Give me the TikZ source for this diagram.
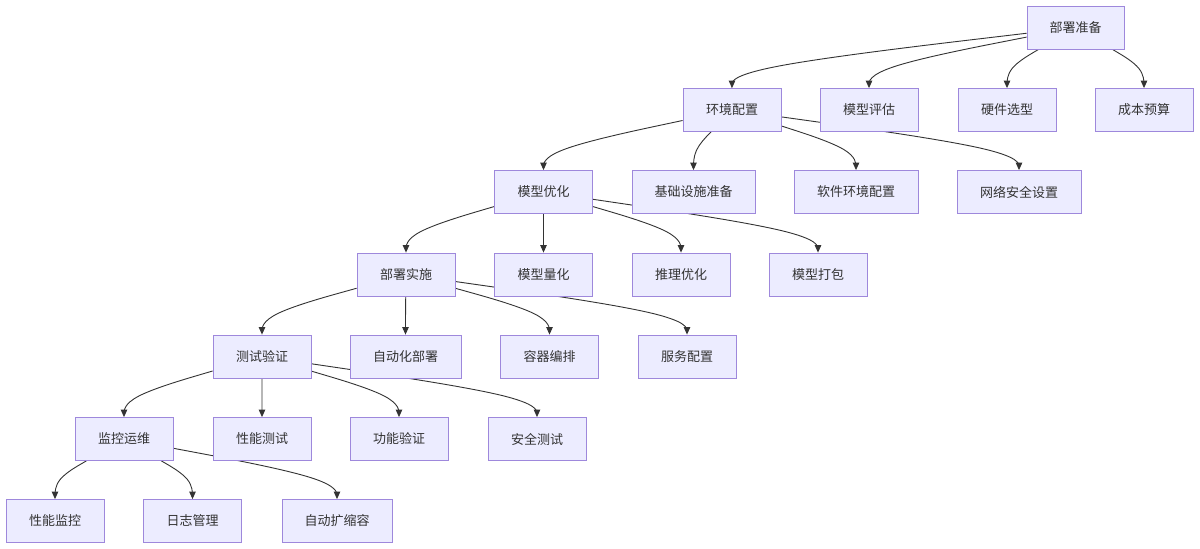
\documentclass[tikz,border=0pt]{standalone}
\usepackage{fontspec}
\setmainfont{Noto Sans CJK SC}
\usetikzlibrary{calc,arrows.meta}
\definecolor{boxfill}{HTML}{ECECFF}
\definecolor{boxline}{HTML}{9E88DC}
\definecolor{edgecol}{HTML}{333333}
\definecolor{txtcol}{HTML}{333333}
\pgfdeclarelayer{edgelayer}
\pgfsetlayers{edgelayer,main}
\newcommand\mmedge[2]{%
  \coordinate (mD) at ($(#2.north)+(0,-20)$);
  \path (#1) -- coordinate[pos=0] (mS) (mD);
  \draw[edgeline] (mS) -- ($0.833333*(mS)+0.166667*(mD)$)
    .. controls ($0.666667*(mS)+0.333333*(mD)$) and ($0.333333*(mS)+0.666667*(mD)$)
    .. ($0.166667*(mS)+0.666667*(mD)+0.166667*(#2.north)$)
    .. controls ($0.666667*(mD)+0.333333*(#2.north)$) and ($0.333333*(mD)+0.666667*(#2.north)$)
    .. ($0.166667*(mD)+0.833333*(#2.north)$) -- (#2.north);
}
\tikzset{
  box/.style={draw=boxline, fill=boxfill, line width=0.8pt, minimum width=98pt,
    minimum height=43pt, inner sep=0pt, font=\fontsize{13}{15}\selectfont, text=txtcol},
  edgeline/.style={draw=edgecol, line width=0.9pt, -{Triangle[length=7.5pt,width=6.5pt]}}
}
\begin{document}
\begin{tikzpicture}[x=1pt,y=-1pt]
\useasboundingbox (0,0) rectangle (1200,549);
% row 1
\node[box, minimum width=97pt] (a) at (1075.5,27.5) {部署准备};
% row 2
\node[box] (b1) at (732,110) {环境配置};
\node[box] (b2) at (869,110) {模型评估};
\node[box] (b3) at (1007,110) {硬件选型};
\node[box] (b4) at (1144,110) {成本预算};
% row 3
\node[box] (c1) at (543.5,192) {模型优化};
\node[box, minimum width=123pt] (c2) at (693.5,192) {基础设施准备};
\node[box, minimum width=124pt] (c3) at (856,192) {软件环境配置};
\node[box, minimum width=124pt] (c4) at (1019,192) {网络安全设置};
% row 4
\node[box] (d1) at (406,274.5) {部署实施};
\node[box] (d2) at (543.5,274.5) {模型量化};
\node[box] (d3) at (681,274.5) {推理优化};
\node[box] (d4) at (818,274.5) {模型打包};
% row 5
\node[box] (e1) at (262,356.5) {测试验证};
\node[box, minimum width=111pt] (e2) at (405.5,356.5) {自动化部署};
\node[box] (e3) at (549.5,356.5) {容器编排};
\node[box] (e4) at (687,356.5) {服务配置};
% row 6
\node[box] (f1) at (124,439) {监控运维};
\node[box] (f2) at (262,439) {性能测试};
\node[box] (f3) at (399,439) {功能验证};
\node[box] (f4) at (537,439) {安全测试};
% row 7
\node[box] (g1) at (55,521) {性能监控};
\node[box] (g2) at (192.5,521) {日志管理};
\node[box, minimum width=110pt] (g3) at (337,521) {自动扩缩容};
\begin{pgfonlayer}{edgelayer}
\mmedge{a}{b1}\mmedge{a}{b2}\mmedge{a}{b3}\mmedge{a}{b4}
\mmedge{b1}{c1}\mmedge{b1}{c2}\mmedge{b1}{c3}\mmedge{b1}{c4}
\mmedge{c1}{d1}\mmedge{c1}{d2}\mmedge{c1}{d3}\mmedge{c1}{d4}
\mmedge{d1}{e1}\mmedge{d1}{e2}\mmedge{d1}{e3}\mmedge{d1}{e4}
\mmedge{e1}{f1}\mmedge{e1}{f2}\mmedge{e1}{f3}\mmedge{e1}{f4}
\mmedge{f1}{g1}\mmedge{f1}{g2}\mmedge{f1}{g3}
\end{pgfonlayer}
\end{tikzpicture}
\end{document}
